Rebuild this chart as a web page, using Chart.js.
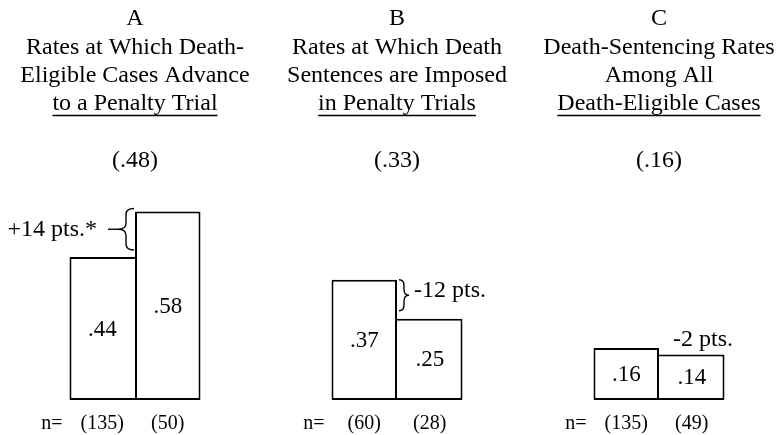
<!DOCTYPE html>
<html>
<head>
<meta charset="utf-8">
<script src="https://cdn.jsdelivr.net/npm/chart.js@4/dist/chart.umd.min.js"></script>
<style>
  html, body { margin: 0; padding: 0; background: #ffffff; }
  #wrap { width: 779px; height: 435px; }
</style>
</head>
<body>
<div id="wrap"><canvas id="c" width="779" height="435"></canvas></div>
<script>
// ---- data ----
const groups = ['A', 'B', 'C'];
const titleLines = [
  ['Rates at Which Death-', 'Eligible Cases Advance', 'to a Penalty Trial'],
  ['Rates at Which Death', 'Sentences are Imposed', 'in Penalty Trials'],
  ['Death-Sentencing Rates', 'Among All', 'Death-Eligible Cases']
];
const overallRates = [0.48, 0.33, 0.16];
const firstRates = [0.44, 0.37, 0.16];
const secondRates = [0.58, 0.25, 0.14];
const firstN = [135, 60, 135];
const secondN = [50, 28, 49];
const significance = ['*', '', ''];

const FONT = '"Liberation Serif", "Times New Roman", serif';
const fmt = v => v.toFixed(2).replace(/^0/, '');

function braceV(ctx, x0, y1, y2, dir, w) {
  const ym = (y1 + y2) / 2;
  const xm = x0 + dir * w / 2;
  const r = Math.min(6, (y2 - y1) / 4);
  ctx.beginPath();
  ctx.moveTo(x0, y1);
  ctx.quadraticCurveTo(xm, y1, xm, y1 + r);
  ctx.lineTo(xm, ym - r);
  ctx.quadraticCurveTo(xm, ym, x0 + dir * w, ym);
  ctx.quadraticCurveTo(xm, ym, xm, ym + r);
  ctx.lineTo(xm, y2 - r);
  ctx.quadraticCurveTo(xm, y2, x0, y2);
  ctx.stroke();
  return ym;
}

const textPlugin = {
  id: 'textPlugin',
  afterDatasetsDraw(chart) {
    const ctx = chart.ctx;
    const xs = chart.scales.x;
    const m0 = chart.getDatasetMeta(0).data;
    const m1 = chart.getDatasetMeta(1).data;
    ctx.save();
    ctx.fillStyle = '#000';
    ctx.strokeStyle = '#000';
    ctx.textAlign = 'center';
    ctx.textBaseline = 'alphabetic';

    groups.forEach((g, i) => {
      const cx = xs.getPixelForValue(i);
      ctx.font = '24px ' + FONT;
      ctx.textAlign = 'center';
      ctx.fillText(g, cx, 25);
      const lines = titleLines[i];
      const bases = [54, 82, 110];
      lines.forEach((t, k) => ctx.fillText(t, cx, bases[k]));
      const w = ctx.measureText(lines[2]).width;
      ctx.lineWidth = 1.4;
      ctx.beginPath();
      ctx.moveTo(cx - w / 2, 115.5);
      ctx.lineTo(cx + w / 2, 115.5);
      ctx.stroke();
      ctx.fillText('(' + fmt(overallRates[i]) + ')', cx, 167);

      // values inside bars
      [m0[i], m1[i]].forEach((el, d) => {
        const p = el.getProps(['x', 'y', 'base'], true);
        const v = d === 0 ? firstRates[i] : secondRates[i];
        ctx.font = '23px ' + FONT;
        ctx.textBaseline = 'middle';
        ctx.fillText(fmt(v), p.x, (p.y + p.base) / 2 + 1);
        ctx.textBaseline = 'alphabetic';
        const n = d === 0 ? firstN[i] : secondN[i];
        ctx.font = '20px ' + FONT;
        ctx.fillText('(' + n + ')', p.x, 429);
      });
      ctx.font = '20px ' + FONT;
      ctx.fillText('n=', cx - 83, 429);
    });

    // difference annotations
    ctx.lineWidth = 1.4;
    ctx.font = '24px ' + FONT;
    ctx.textBaseline = 'middle';
    const diffLabel = i => {
      const d = Math.round((secondRates[i] - firstRates[i]) * 100);
      return (d > 0 ? '+' : '') + d + ' pts.' + significance[i];
    };
    // A: brace left of the taller second bar
    {
      const a = m0[0].getProps(['x', 'y', 'base', 'width'], true);
      const b = m1[0].getProps(['x', 'y', 'base', 'width'], true);
      const edge = b.x - b.width / 2 - 1;
      const ym = braceV(ctx, edge, b.y - 3, a.y - 7, -1, 16);
      ctx.beginPath();
      ctx.moveTo(edge - 16, ym);
      ctx.lineTo(edge - 26, ym);
      ctx.stroke();
      ctx.textAlign = 'right';
      ctx.fillText(diffLabel(0), edge - 37, ym);
    }
    // B: brace right of the taller first bar
    {
      const a = m0[1].getProps(['x', 'y', 'base', 'width'], true);
      const b = m1[1].getProps(['x', 'y', 'base', 'width'], true);
      const edge = a.x + a.width / 2 + 2;
      const ym = braceV(ctx, edge, a.y, b.y - 8, 1, 10);
      ctx.textAlign = 'left';
      ctx.fillText(diffLabel(1), edge + 15, ym - 5);
    }
    // C: label above second bar
    {
      const b = m1[2].getProps(['x', 'y', 'base', 'width'], true);
      ctx.textAlign = 'left';
      ctx.fillText(diffLabel(2), b.x - b.width / 2 + 14, b.y - 15);
    }
    ctx.restore();
  }
};

function sideBorders(ctx, isFirst) {
  const i = ctx.dataIndex;
  const mine = isFirst ? firstRates[i] : secondRates[i];
  const other = isFirst ? secondRates[i] : firstRates[i];
  const inner = mine >= other ? 2 : 0;
  return isFirst
    ? { top: 2, bottom: 2, left: 2, right: inner }
    : { top: 2, bottom: 2, left: inner, right: 2 };
}

new Chart(document.getElementById('c'), {
  type: 'bar',
  data: {
    labels: groups,
    datasets: [
      {
        data: firstRates,
        backgroundColor: '#ffffff',
        borderColor: '#000000',
        borderWidth: ctx => sideBorders(ctx, true),
        borderSkipped: false,
        clip: false
      },
      {
        data: secondRates,
        backgroundColor: '#ffffff',
        borderColor: '#000000',
        borderWidth: ctx => sideBorders(ctx, false),
        borderSkipped: false,
        clip: false
      }
    ]
  },
  options: {
    responsive: false,
    devicePixelRatio: 1,
    animation: false,
    layout: { padding: { left: 135, right: 120, top: 75, bottom: 35 } },
    categoryPercentage: 0.5,
    barPercentage: 1.0,
    plugins: { legend: { display: false }, tooltip: { enabled: false }, title: { display: false } },
    scales: {
      x: { display: false, offset: false, grid: { display: false } },
      y: { display: false, min: 0, max: 1, grid: { display: false } }
    }
  },
  plugins: [textPlugin]
});
</script>
</body>
</html>
